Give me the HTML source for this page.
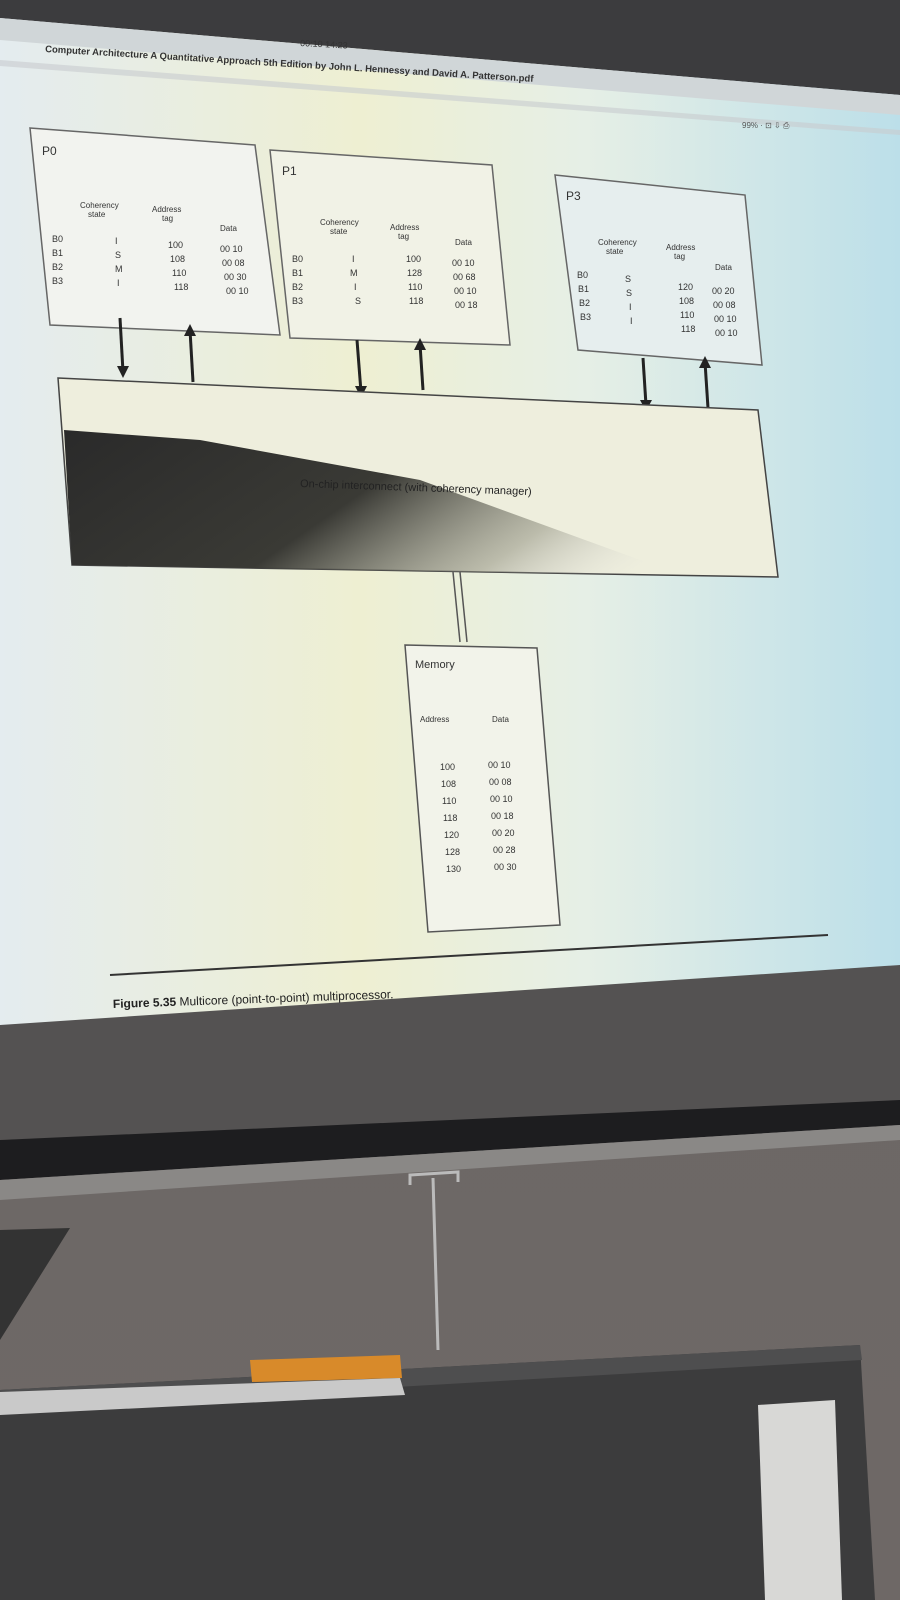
<!DOCTYPE html>
<html><head><meta charset="utf-8"><style>
html,body{margin:0;padding:0;width:900px;height:1600px;overflow:hidden;background:#5c5a59}
svg{display:block}
text{font-family:"Liberation Sans",sans-serif}
</style></head><body>
<svg width="900" height="1600" viewBox="0 0 900 1600">
<defs>
<linearGradient id="scr" x1="0" x2="1" y1="0" y2="0">
<stop offset="0" stop-color="#e4ecef"/><stop offset="0.4" stop-color="#eeefd2"/><stop offset="0.65" stop-color="#e6efe6"/><stop offset="1" stop-color="#bcdfe9"/>
</linearGradient>
<linearGradient id="noise" x1="0" x2="1" y1="0" y2="0.3">
<stop offset="0" stop-color="#2a2a2a"/><stop offset="0.5" stop-color="#3a3a35"/><stop offset="0.8" stop-color="#9a9a8a" stop-opacity="0.6"/><stop offset="1" stop-color="#ddd" stop-opacity="0"/>
</linearGradient>
<linearGradient id="wall" x1="0" x2="0" y1="0" y2="1">
<stop offset="0" stop-color="#6a6664"/><stop offset="1" stop-color="#6e6866"/>
</linearGradient>
</defs>
<!-- background wall -->
<rect x="0" y="0" width="900" height="1600" fill="url(#wall)"/>
<polygon points="0,0 900,0 900,110 0,30" fill="#3c3c3e"/>
<polygon points="0,1020 900,965 900,1105 0,1140" fill="#545252"/>
<polygon points="0,1140 900,1100 900,1125 0,1180" fill="#1d1d1f"/>
<polygon points="0,1180 900,1125 900,1140 0,1200" fill="#8a8886"/>
<!-- screen -->
<polygon points="0,18 900,95 900,965 0,1025" fill="url(#scr)"/>
<polygon points="0,18 900,95 900,115 0,40" fill="#d0d6d8"/>
<text x="300" y="46" font-size="9" fill="#333" transform="rotate(3 300 46)">00:10 14:23</text>
<text x="45" y="52" font-size="9.5" fill="#333" font-weight="bold" transform="rotate(3.5 45 52)">Computer Architecture A Quantitative Approach 5th Edition by John L. Hennessy and David A. Patterson.pdf</text>
<polygon points="0,60 900,130 900,135 0,66" fill="#c8ccce" opacity="0.6"/>
<text x="742" y="128" font-size="8" fill="#555">99% · ⊡ ⇩ ⎙</text>

<!-- P0 -->
<g>
<polygon points="30,128 255,145 280,335 50,325" fill="#f2f3ef" stroke="#666" stroke-width="1.5"/>
<text x="42" y="155" font-size="12" fill="#333">P0</text>
<text x="80" y="208" font-size="8" fill="#333">Coherency</text><text x="88" y="217" font-size="8" fill="#333">state</text>
<text x="152" y="212" font-size="8" fill="#333">Address</text><text x="162" y="221" font-size="8" fill="#333">tag</text>
<text x="220" y="231" font-size="8" fill="#333">Data</text>
<text x="52" y="242" font-size="9" fill="#333">B0</text><text x="52" y="256" font-size="9" fill="#333">B1</text><text x="52" y="270" font-size="9" fill="#333">B2</text><text x="52" y="284" font-size="9" fill="#333">B3</text>
<text x="115" y="244" font-size="9" fill="#333">I</text><text x="115" y="258" font-size="9" fill="#333">S</text><text x="115" y="272" font-size="9" fill="#333">M</text><text x="117" y="286" font-size="9" fill="#333">I</text>
<text x="168" y="248" font-size="9" fill="#333">100</text><text x="170" y="262" font-size="9" fill="#333">108</text><text x="172" y="276" font-size="9" fill="#333">110</text><text x="174" y="290" font-size="9" fill="#333">118</text>
<text x="220" y="252" font-size="9" fill="#333">00  10</text><text x="222" y="266" font-size="9" fill="#333">00  08</text><text x="224" y="280" font-size="9" fill="#333">00  30</text><text x="226" y="294" font-size="9" fill="#333">00  10</text>
</g>
<!-- P1 -->
<g>
<polygon points="270,150 492,165 510,345 290,338" fill="#f1f2e6" stroke="#666" stroke-width="1.5"/>
<text x="282" y="175" font-size="12" fill="#333">P1</text>
<text x="320" y="225" font-size="8" fill="#333">Coherency</text><text x="330" y="234" font-size="8" fill="#333">state</text>
<text x="390" y="230" font-size="8" fill="#333">Address</text><text x="398" y="239" font-size="8" fill="#333">tag</text>
<text x="455" y="245" font-size="8" fill="#333">Data</text>
<text x="292" y="262" font-size="9" fill="#333">B0</text><text x="292" y="276" font-size="9" fill="#333">B1</text><text x="292" y="290" font-size="9" fill="#333">B2</text><text x="292" y="304" font-size="9" fill="#333">B3</text>
<text x="352" y="262" font-size="9" fill="#333">I</text><text x="350" y="276" font-size="9" fill="#333">M</text><text x="354" y="290" font-size="9" fill="#333">I</text><text x="355" y="304" font-size="9" fill="#333">S</text>
<text x="406" y="262" font-size="9" fill="#333">100</text><text x="407" y="276" font-size="9" fill="#333">128</text><text x="408" y="290" font-size="9" fill="#333">110</text><text x="409" y="304" font-size="9" fill="#333">118</text>
<text x="452" y="266" font-size="9" fill="#333">00  10</text><text x="453" y="280" font-size="9" fill="#333">00  68</text><text x="454" y="294" font-size="9" fill="#333">00  10</text><text x="455" y="308" font-size="9" fill="#333">00  18</text>
</g>
<!-- P3 -->
<g>
<polygon points="555,175 745,195 762,365 578,350" fill="#e6eeee" stroke="#666" stroke-width="1.5"/>
<text x="566" y="200" font-size="12" fill="#333">P3</text>
<text x="598" y="245" font-size="8" fill="#333">Coherency</text><text x="606" y="254" font-size="8" fill="#333">state</text>
<text x="666" y="250" font-size="8" fill="#333">Address</text><text x="674" y="259" font-size="8" fill="#333">tag</text>
<text x="715" y="270" font-size="8" fill="#333">Data</text>
<text x="577" y="278" font-size="9" fill="#333">B0</text><text x="578" y="292" font-size="9" fill="#333">B1</text><text x="579" y="306" font-size="9" fill="#333">B2</text><text x="580" y="320" font-size="9" fill="#333">B3</text>
<text x="625" y="282" font-size="9" fill="#333">S</text><text x="626" y="296" font-size="9" fill="#333">S</text><text x="629" y="310" font-size="9" fill="#333">I</text><text x="630" y="324" font-size="9" fill="#333">I</text>
<text x="678" y="290" font-size="9" fill="#333">120</text><text x="679" y="304" font-size="9" fill="#333">108</text><text x="680" y="318" font-size="9" fill="#333">110</text><text x="681" y="332" font-size="9" fill="#333">118</text>
<text x="712" y="294" font-size="9" fill="#333">00  20</text><text x="713" y="308" font-size="9" fill="#333">00  08</text><text x="714" y="322" font-size="9" fill="#333">00  10</text><text x="715" y="336" font-size="9" fill="#333">00  10</text>
</g>
<!-- arrows -->
<g stroke="#222" stroke-width="3" fill="#222">
<line x1="120" y1="318" x2="123" y2="372"/><polygon points="117,366 129,366 123,378" stroke="none"/>
<line x1="190" y1="330" x2="193" y2="382"/><polygon points="184,336 196,336 190,324" stroke="none"/>
<line x1="357" y1="340" x2="361" y2="392"/><polygon points="355,386 367,386 361,398" stroke="none"/>
<line x1="420" y1="344" x2="423" y2="390"/><polygon points="414,350 426,350 420,338" stroke="none"/>
<line x1="643" y1="358" x2="646" y2="405"/><polygon points="640,400 652,400 646,411" stroke="none"/>
<line x1="705" y1="362" x2="708" y2="408"/><polygon points="699,368 711,368 705,356" stroke="none"/>
</g>
<!-- interconnect -->
<g>
<polygon points="58,378 758,410 778,577 72,565" fill="#eeeedd" stroke="#444" stroke-width="1.5"/>
<polygon points="64,430 200,440 420,480 640,560 778,577 72,565" fill="url(#noise)"/>
<text x="300" y="487" font-size="11" fill="#222" transform="rotate(2 300 487)">On-chip interconnect (with coherency manager)</text>
</g>
<g stroke="#555" stroke-width="1.5" fill="none">
<line x1="453" y1="572" x2="460" y2="642"/><line x1="460" y1="572" x2="467" y2="642"/>
</g>
<!-- memory -->
<g>
<polygon points="405,645 537,648 560,925 428,932" fill="#f2f3ea" stroke="#555" stroke-width="1.5"/>
<text x="415" y="668" font-size="11" fill="#333">Memory</text>
<text x="420" y="722" font-size="8" fill="#333">Address</text><text x="492" y="722" font-size="8" fill="#333">Data</text>
<text x="440" y="770" font-size="9" fill="#333">100</text><text x="441" y="787" font-size="9" fill="#333">108</text><text x="442" y="804" font-size="9" fill="#333">110</text><text x="443" y="821" font-size="9" fill="#333">118</text><text x="444" y="838" font-size="9" fill="#333">120</text><text x="445" y="855" font-size="9" fill="#333">128</text><text x="446" y="872" font-size="9" fill="#333">130</text>
<text x="488" y="768" font-size="9" fill="#333">00  10</text><text x="489" y="785" font-size="9" fill="#333">00  08</text><text x="490" y="802" font-size="9" fill="#333">00  10</text><text x="491" y="819" font-size="9" fill="#333">00  18</text><text x="492" y="836" font-size="9" fill="#333">00  20</text><text x="493" y="853" font-size="9" fill="#333">00  28</text><text x="494" y="870" font-size="9" fill="#333">00  30</text>
</g>
<line x1="110" y1="975" x2="828" y2="935" stroke="#333" stroke-width="2"/>
<text x="113" y="1008" font-size="12" fill="#222" transform="rotate(-2 113 1008)"><tspan font-weight="bold">Figure 5.35</tspan>  Multicore (point-to-point) multiprocessor.</text>
<!-- room -->
<polygon points="0,1230 70,1228 0,1340" fill="#333"/>
<g stroke="#bbb" stroke-width="3" fill="none">
<path d="M410,1185 L410,1175 L458,1172 L458,1182"/><line x1="433" y1="1178" x2="438" y2="1350"/>
</g>
<polygon points="0,1390 860,1345 875,1600 0,1600" fill="#3c3c3d"/>
<polygon points="0,1390 860,1345 862,1360 0,1410" fill="#4e4e4f"/>
<polygon points="758,1405 835,1400 842,1600 765,1600" fill="#d8d8d6"/>
<polygon points="250,1360 400,1355 402,1378 252,1382" fill="#d88a2a"/>
<polygon points="0,1392 400,1378 405,1395 0,1415" fill="#c9c9c9"/>
</svg>
</body></html>
